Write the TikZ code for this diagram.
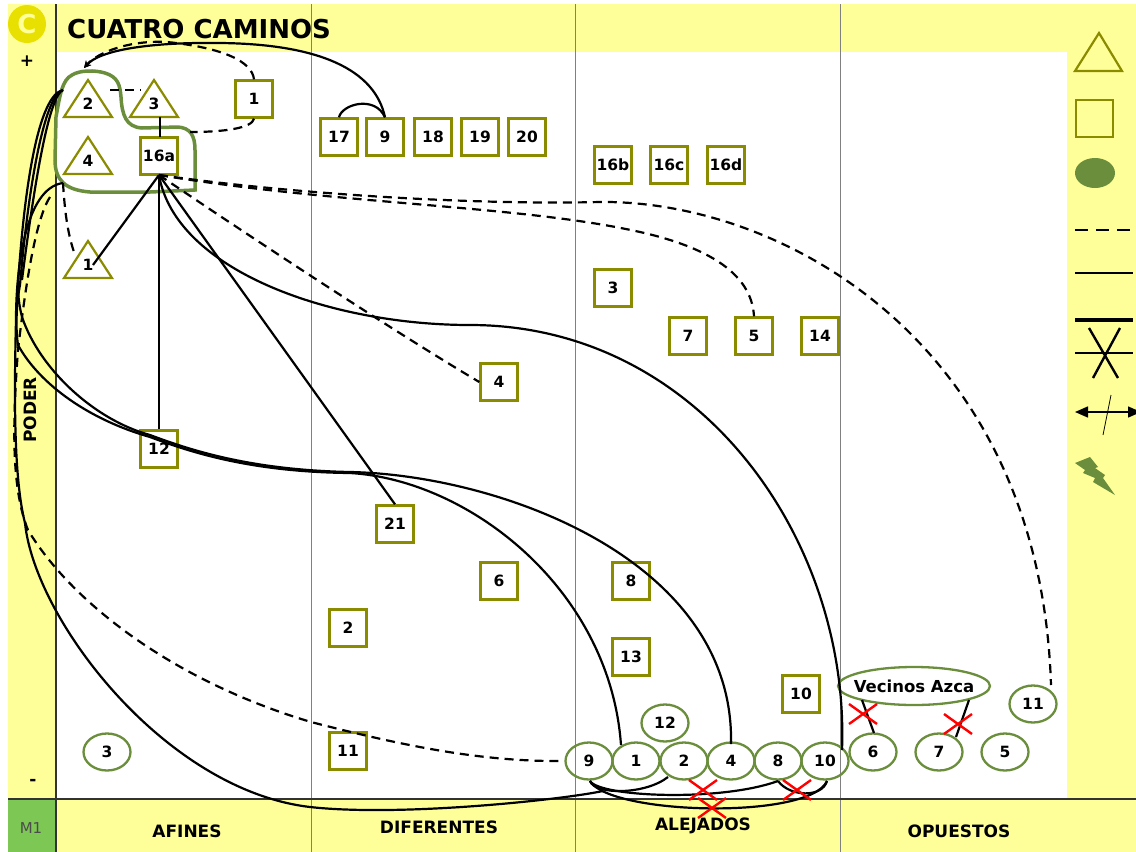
\documentclass[tikz,border=0pt]{standalone}
\usepackage{fontspec}
\setmainfont{DejaVu Sans}
\usetikzlibrary{arrows.meta,shapes.geometric}
\definecolor{bandyellow}{HTML}{FFFF99}
\definecolor{olivebox}{HTML}{8B8B00}
\definecolor{greenring}{HTML}{6B8E3D}
\definecolor{mgreen}{HTML}{7DC855}
\definecolor{cyellow}{HTML}{E8E000}
\tikzset{
  sq/.style={draw=olivebox,line width=2.4pt,minimum width=37pt,minimum height=37pt,inner sep=0pt,font=\bfseries\fontsize{15.5}{15.5}\selectfont},
  el/.style={draw=greenring,ellipse,line width=2.3pt,minimum width=47pt,minimum height=37pt,inner sep=0pt,font=\bfseries\fontsize{15.5}{15.5}\selectfont},
  trilab/.style={inner sep=0pt,font=\bfseries\fontsize{15.5}{15.5}\selectfont},
  triline/.style={draw=olivebox,line width=2.2pt,line join=miter},
  band/.style={inner sep=0pt,font=\bfseries\fontsize{17}{17}\selectfont},
  conn/.style={black,line width=2.2pt},
  dconn/.style={black,line width=2.2pt,dash pattern=on 9pt off 6pt},
  ring/.style={draw=greenring,line width=3.5pt},
  redx/.style={red,line width=2.4pt},
}
\newcommand\Tri[4]{\draw[triline] (#2,#3) +(0,-24) -- +(24,13) -- +(-24,13) -- cycle; \node[trilab] (#1) at (#2,#3) {#4};}
\newcommand\RedX[2]{\draw[redx] (#1,#2) +(-14,-10) -- +(14,10) +(-14,10) -- +(14,-10);}
\begin{document}
\begin{tikzpicture}[x=1pt,y=-1pt]
\useasboundingbox (0,0) rectangle (1136,852);
\fill[white] (0,0) rectangle (1136,852);
\fill[bandyellow] (8,4) rectangle (1136,852);
\fill[white] (56,52) rectangle (1067,799);
\fill[mgreen] (8,799) rectangle (56,852);
\draw[gray,line width=1pt] (311,4) -- (311,852) (575,4) -- (575,852) (840,4) -- (840,852);
\draw[black!80,line width=1.2pt] (56,4) -- (56,852) (8,799) -- (1136,799);
% title and band labels
\node[circle,fill=cyellow,minimum size=38pt,inner sep=0pt,text=bandyellow,font=\bfseries\fontsize{26}{26}\selectfont] (logo) at (27,24) {C};
\node[anchor=west,inner sep=0pt,font=\bfseries\fontsize{26}{26}\selectfont] (title) at (67,29) {CUATRO CAMINOS};
\node[band] (plus) at (27,61) {+};
\node[band] (minus) at (33,782) {-};
\node[band,rotate=90] (poder) at (30,410) {PODER};
\node[inner sep=0pt,text=black!70,font=\fontsize{15}{15}\selectfont] (m1) at (31,828) {M1};
\node[band] (afines) at (187,831) {AFINES};
\node[band] (dif) at (439,827) {DIFERENTES};
\node[band] (alej) at (703,826) {ALEJADOS};
\node[band] (opu) at (959,831) {OPUESTOS};
% actors
\Tri{t2}{88}{104}{2}
\Tri{t3}{154}{104}{3}
\Tri{t4}{88}{161}{4}
\Tri{t1}{88}{265}{1}
\node[sq] (s1) at (254,99) {1};
\node[sq] (s17) at (339,137) {17};
\node[sq] (s9) at (385,137) {9};
\node[sq] (s18) at (433,137) {18};
\node[sq] (s19) at (480,137) {19};
\node[sq] (s20) at (527,137) {20};
\node[sq] (s16a) at (159,156) {16a};
\node[sq] (s16b) at (613,165) {16b};
\node[sq] (s16c) at (669,165) {16c};
\node[sq] (s16d) at (726,165) {16d};
\node[sq] (s3) at (613,288) {3};
\node[sq] (s7) at (688,336) {7};
\node[sq] (s5) at (754,336) {5};
\node[sq] (s14) at (820,336) {14};
\node[sq] (s4) at (499,382) {4};
\node[sq] (s12) at (159,449) {12};
\node[sq] (s21) at (395,524) {21};
\node[sq] (s6) at (499,581) {6};
\node[sq] (s8) at (631,581) {8};
\node[sq] (s2) at (348,628) {2};
\node[sq] (s13) at (631,657) {13};
\node[sq] (s10) at (801,694) {10};
\node[sq] (s11) at (348,751) {11};
\node[el] (e3) at (107,752) {3};
\node[el] (e12) at (665,723) {12};
\node[el] (e9) at (589,761) {9};
\node[el] (e1) at (636,761) {1};
\node[el] (e2) at (684,761) {2};
\node[el] (e4) at (731,761) {4};
\node[el] (e8) at (778,761) {8};
\node[el] (e10) at (825,761) {10};
\node[el] (e6) at (873,752) {6};
\node[el] (e7) at (939,752) {7};
\node[el] (e5) at (1005,752) {5};
\node[el] (e11) at (1033,704) {11};
\node[el,minimum width=152pt,minimum height=38pt,inner xsep=-17pt,font=\bfseries\fontsize{16.5}{16.5}\selectfont] (vec) at (914,686) {Vecinos Azca};
% group ring
\draw[ring] (56,117) .. controls (60,95) and (62,80) .. (72,75)
  .. controls (80,70) and (95,70) .. (105,73)
  .. controls (118,77) and (120,85) .. (121,97)
  .. controls (122,115) and (126,127) .. (142,128)
  -- (178,127) .. controls (190,128) and (195,135) .. (195,150)
  -- (195,190) -- (150,192) -- (90,192)
  .. controls (65,190) and (55,180) .. (55,160) -- cycle;
% anchors for curve ends
\coordinate (ta) at (84,68);
\coordinate (ga) at (63,90);
\coordinate (gb) at (63,183);
\coordinate (gd) at (50,197);
\coordinate (ringr) at (190,132);
\coordinate (a16) at (159,175);
\coordinate (t2r) at (110,90);
\coordinate (t3l) at (141,90);
\coordinate (t1t) at (75,255);
\coordinate (t1r) at (93,265);
\coordinate (t3b) at (160,117);
\coordinate (s16t) at (160,137);
\coordinate (v6) at (862,700);
\coordinate (e6t) at (874,733);
\coordinate (v7) at (969,700);
\coordinate (e7t) at (956,737);
\coordinate (e11t) at (1051,685);
\coordinate (merge) at (603,791);
\coordinate (e1t) at (621,745);
\coordinate (e4t) at (731,744);
\coordinate (e10t) at (842,750);
\coordinate (e2b) at (668,777);
\coordinate (e8b) at (778,781);
\coordinate (e10b) at (827,781);
\coordinate (e9b) at (590,781);
% connectors
\draw[dconn] (t2r) -- (t3l);
\draw[conn] (t3b) -- (s16t);
\draw[dconn,-{Stealth[length=7pt,width=7pt]}] (s1.north) .. controls (252,62) and (225,48) .. (167,42) .. controls (130,40) and (98,52) .. (ta);
\draw[conn,-{Stealth[length=7pt,width=7pt]}] (s9.north) .. controls (375,70) and (320,44) .. (220,43) .. controls (150,42) and (100,50) .. (ta);
\draw[dconn] (s1.south) .. controls (252,128) and (225,132) .. (ringr);
\draw[conn] (s17.north) .. controls (342,104) and (375,95) .. (s9.north);
\draw[conn] (a16) -- (t1r);
\draw[conn] (a16) -- (s12.north);
\draw[conn] (a16) -- (s21.north);
\draw[dconn] (a16) .. controls (270,250) and (400,335) .. (s4.west);
\draw[dconn] (a16) .. controls (340,205) and (520,205) .. (640,232) .. controls (720,250) and (752,280) .. (s5.north);
\draw[dconn] (a16) .. controls (300,195) and (480,205) .. (600,202) .. controls (780,200) and (1040,340) .. (e11t);
\draw[conn] (a16) .. controls (175,270) and (330,325) .. (470,325) .. controls (700,325) and (850,540) .. (e10t);
\draw[dconn] (gb) .. controls (65,215) and (68,235) .. (t1t);
\draw[conn] (ga) .. controls (38,95) and (24,190) .. (18,285) .. controls (18,295) and (19,305) .. (22,317) .. controls (40,370) and (95,420) .. (150,435) .. controls (190,450) and (250,470) .. (350,472) .. controls (500,475) and (735,560) .. (e4t);
\draw[conn] (ga) .. controls (44,95) and (28,190) .. (20,285) .. controls (17,300) and (15,325) .. (18,345) .. controls (40,385) and (90,420) .. (150,437) .. controls (190,452) and (250,472) .. (350,473) .. controls (470,480) and (610,590) .. (e1t);
\draw[conn] (ga) .. controls (50,95) and (36,170) .. (22,280);
\draw[conn] (gb) .. controls (25,188) and (16,270) .. (16,320) .. controls (14,400) and (14,480) .. (25,523) .. controls (35,620) and (165,790) .. (310,807) .. controls (400,817) and (560,800) .. (merge);
\draw[dconn] (gd) .. controls (35,220) and (25,290) .. (18,350) .. controls (12,430) and (12,490) .. (28,530) .. controls (70,600) and (170,680) .. (311,722) .. controls (400,745) and (480,762) .. (e9.west);
\draw[conn] (e9b) .. controls (595,795) and (645,795) .. (e2b);
\draw[conn] (e9b) .. controls (610,815) and (810,820) .. (e10b);
\draw[conn] (e9b) .. controls (600,797) and (720,802) .. (e8b);
\draw[conn] (e8b) .. controls (790,797) and (822,798) .. (e10b);
\draw[conn] (v6) -- (e6t);
\draw[conn] (v7) -- (e7t);
\RedX{703}{790}
\RedX{712}{808}
\RedX{797}{790}
\RedX{863}{714}
\RedX{958}{724}
% legend
\draw[triline] (1099,33) -- (1122,71) -- (1075,71) -- cycle;
\draw[triline] (1076,100) rectangle (1113,137);
\fill[greenring] (1095,173) ellipse (20pt and 15pt);
\draw[black,line width=2pt,dash pattern=on 13pt off 8pt] (1075,230) -- (1130,230);
\draw[black,line width=2pt] (1075,273) -- (1133,273);
\draw[black,line width=3.5pt] (1075,320) -- (1133,320);
\draw[black,line width=2pt] (1075,353) -- (1133,353);
\draw[black,line width=2.4pt] (1089,328) -- (1118,378) (1120,328) -- (1093,378);
\draw[black,line width=1.5pt,{Triangle[length=13pt,width=11pt]}-{Triangle[length=13pt,width=11pt]}] (1075,412) -- (1141,412);
\draw[black,line width=0.8pt] (1111,395) -- (1103,435);
\fill[greenring] (1090,457) -- (1075,463) -- (1085,470) -- (1083,473) -- (1095,478) -- (1093,482) -- (1115,495) -- (1103,478) -- (1105,475) -- (1095,468) -- (1098,467) -- cycle;
\end{tikzpicture}
\end{document}
